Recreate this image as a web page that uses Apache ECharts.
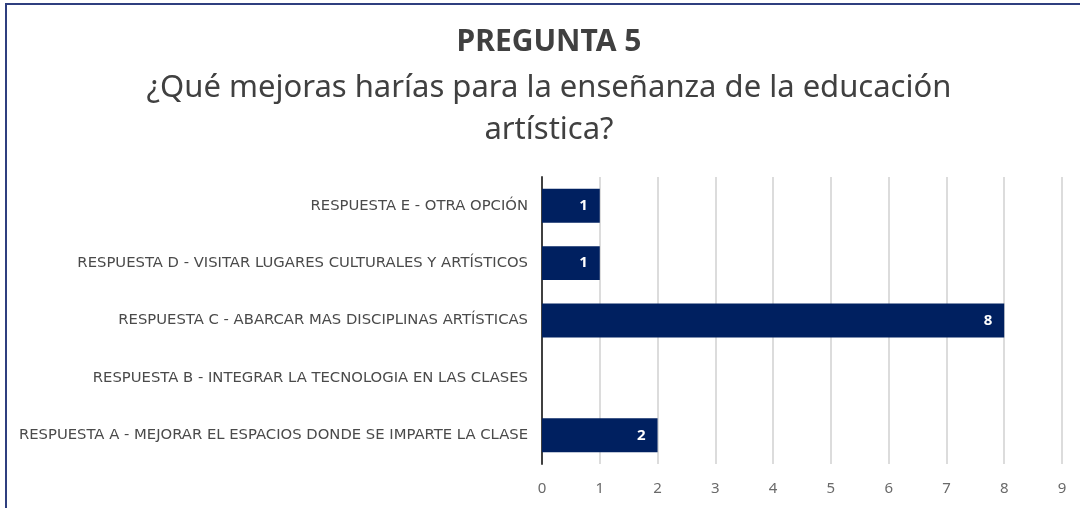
<!DOCTYPE html>
<html>
<head>
<meta charset="utf-8">
<script src="https://cdn.jsdelivr.net/npm/echarts@6/dist/echarts.min.js"></script>
<style>
  html, body { margin: 0; padding: 0; background: #fff; }
  #frame { position: absolute; left: 5px; top: 3px; width: 1090px; height: 520px;
    border-left: 2px solid #2f3f7f; border-top: 2px solid #2f3f7f; box-sizing: border-box; }
  #chart { position: absolute; left: 0; top: 0; width: 1080px; height: 508px; }
</style>
</head>
<body>
<div id="frame"></div>
<div id="chart"></div>
<script>
// answers, bottom to top as drawn
const categories = [
  "RESPUESTA A - MEJORAR EL ESPACIOS DONDE SE IMPARTE LA CLASE",
  "RESPUESTA B - INTEGRAR LA TECNOLOGIA EN LAS CLASES",
  "RESPUESTA C - ABARCAR MAS DISCIPLINAS ARTÍSTICAS",
  "RESPUESTA D - VISITAR LUGARES CULTURALES Y ARTÍSTICOS",
  "RESPUESTA E - OTRA OPCIÓN"
];
const counts = [2, 0, 8, 1, 1];
const xTicks = [0, 1, 2, 3, 4, 5, 6, 7, 8, 9];

const FONT = "'Noto Sans', sans-serif";
const chart = echarts.init(document.getElementById("chart"));
chart.setOption({
  backgroundColor: "transparent",
  animation: false,
  title: [
    { text: "PREGUNTA 5", left: 544, textAlign: "center", top: 22,
      textStyle: { fontFamily: FONT, fontSize: 30, fontWeight: "bold", color: "#404040" } },
    { text: "¿Qué mejoras harías para la enseñanza de la educación\nartística?",
      left: 544, textAlign: "center", top: 62,
      textStyle: { fontFamily: FONT, fontSize: 31, fontWeight: "normal", color: "#404040", lineHeight: 42 } }
  ],
  grid: { left: 542, right: 18, top: 177, bottom: 44 },
  xAxis: {
    type: "value", min: 0, max: xTicks[xTicks.length - 1], interval: 1,
    axisLine: { show: false }, axisTick: { show: false },
    splitLine: { lineStyle: { color: "#d0d0d0", width: 1.5 } },
    axisLabel: { color: "#6a6a6a", fontSize: 15, fontFamily: FONT, margin: 17 }
  },
  yAxis: {
    type: "category", data: categories,
    axisLine: { lineStyle: { color: "#404040", width: 2 } },
    axisTick: { show: false },
    axisLabel: { color: "#4a4a4a", fontSize: 14.8, fontFamily: "'DejaVu Sans', sans-serif", margin: 14 }
  },
  series: [{
    type: "bar", data: counts, barCategoryGap: "41%",
    itemStyle: { color: "#002060" },
    label: {
      show: true, position: "insideRight", color: "#fff", fontWeight: "bold",
      fontSize: 15, fontFamily: FONT, distance: 12,
      formatter: (p) => (p.value ? p.value : "")
    }
  }]
});
</script>
</body>
</html>
